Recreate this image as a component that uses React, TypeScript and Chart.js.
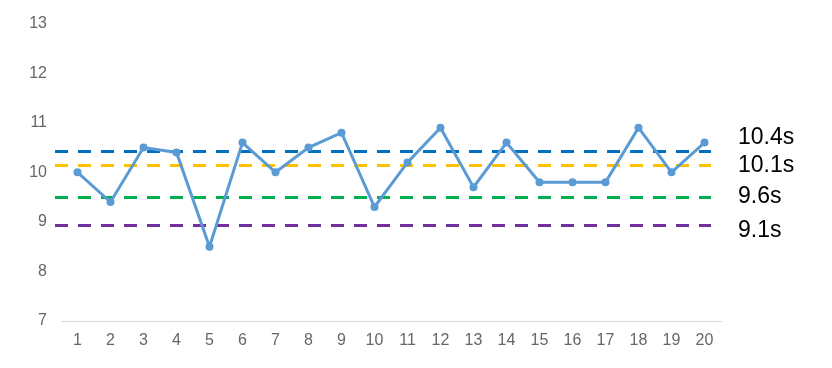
import React, { useEffect, useRef } from "react";
import { Chart, registerables } from "chart.js";

Chart.register(...registerables);

const categories = ["1","2","3","4","5","6","7","8","9","10","11","12","13","14","15","16","17","18","19","20"];
const times = [10.0, 9.4, 10.5, 10.4, 8.5, 10.6, 10.0, 10.5, 10.8, 9.3, 10.2, 10.9, 9.7, 10.6, 9.8, 9.8, 9.8, 10.9, 10.0, 10.6];
const refValues = [10.42, 10.14, 9.5, 8.93];
const refLabels = ["10.4s", "10.1s", "9.6s", "9.1s"];
const refColors = ["#0070C0", "#FFC000", "#00B050", "#7030A0"];
const yMin = 7;
const yMax = 13;

const refLinesPlugin = {
  id: "refLines",
  beforeDatasetsDraw(chart: any) {
    const { ctx, chartArea, scales } = chart;
    const y = scales.y;
    ctx.save();
    ctx.lineWidth = 3;
    ctx.setLineDash([13, 10]);
    refValues.forEach((v, i) => {
      const py = Math.round(y.getPixelForValue(v)) + 0.5;
      ctx.strokeStyle = refColors[i];
      ctx.beginPath();
      ctx.moveTo(chartArea.left - 6, py);
      ctx.lineTo(chartArea.right - 10, py);
      ctx.stroke();
    });
    ctx.restore();
  },
  afterDraw(chart: any) {
    const { ctx, chartArea, scales } = chart;
    const y = scales.y;
    const offsets = [-14, 0, 0, 5];
    ctx.save();
    ctx.fillStyle = "#000000";
    ctx.font = "23px 'Liberation Sans', 'Noto Sans', sans-serif";
    ctx.textAlign = "left";
    ctx.textBaseline = "middle";
    refLabels.forEach((t, i) => {
      const py = y.getPixelForValue(refValues[i]) + offsets[i];
      ctx.fillText(t, chartArea.right + 17, py);
    });
    ctx.restore();
  },
};

export default function App() {
  const ref = useRef<HTMLCanvasElement>(null);
  useEffect(() => {
    if (!ref.current) return;
    const chart = new Chart(ref.current, {
      type: "line",
      data: {
        labels: categories,
        datasets: [
          {
            data: times,
            borderColor: "#5B9BD5",
            backgroundColor: "#5B9BD5",
            borderWidth: 3,
            pointRadius: 4,
            pointHoverRadius: 4,
            pointBackgroundColor: "#5B9BD5",
            pointBorderWidth: 0,
            tension: 0,
          },
        ],
      },
      options: {
        responsive: false,
        animation: false,
        events: [],
        layout: { padding: { top: 23, right: 111, bottom: 0, left: 0 } },
        plugins: { legend: { display: false }, tooltip: { enabled: false } },
        scales: {
          x: {
            offset: true,
            grid: { display: false, drawTicks: false },
            border: { display: true, color: "#D9D9D9", width: 1 },
            ticks: {
              color: "#666666",
              font: { size: 16, family: "'Liberation Sans', sans-serif" },
              padding: 10,
              maxRotation: 0,
              autoSkip: false,
            },
            afterFit: (s: any) => {
              s.height = 47;
            },
          },
          y: {
            min: yMin,
            max: yMax,
            grid: { display: false, drawTicks: false },
            border: { display: false },
            ticks: {
              stepSize: 1,
              color: "#666666",
              font: { size: 16, family: "'Liberation Sans', sans-serif" },
              padding: 14,
            },
            afterFit: (s: any) => {
              s.width = 61;
            },
          },
        },
      },
      plugins: [refLinesPlugin],
    });
    return () => chart.destroy();
  }, []);
  return (
    <div style={{ position: "fixed", left: 0, top: 0, width: 832, height: 368, background: "#fff" }}>
      <canvas ref={ref} width={832} height={368} style={{ display: "block" }} />
    </div>
  );
}
